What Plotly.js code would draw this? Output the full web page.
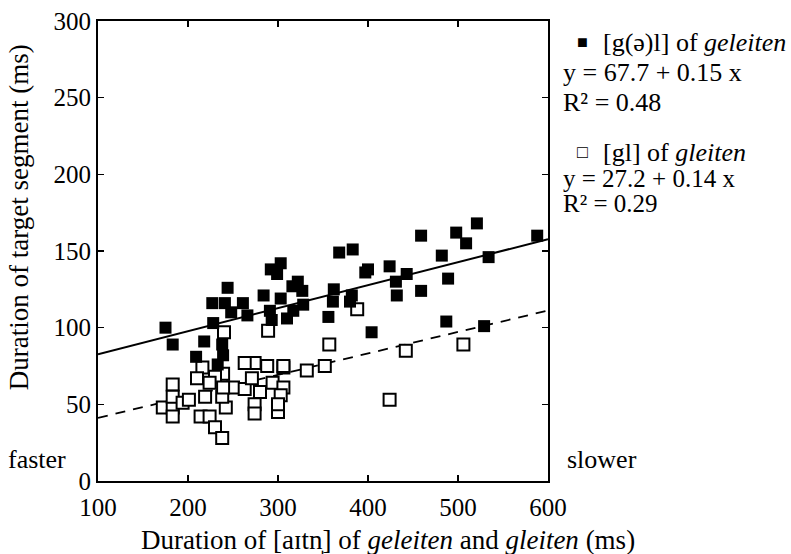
<!DOCTYPE html>
<html>
<head>
<meta charset="utf-8">
<script src="https://cdn.plot.ly/plotly-3.0.1.min.js"></script>
<style>html,body{margin:0;padding:0;background:#fff;}#chart{width:791px;height:554px;}</style>
</head>
<body>
<div id="chart"></div>
<script>
// [g(ə)l] of geleiten (filled squares)
const geleitenX = [175, 183, 209, 218, 227, 228, 238, 239, 233, 241, 244, 248, 261, 266, 284, 292, 303, 299, 303, 316, 322, 327, 328, 317, 310, 291, 293, 362, 361, 356, 368, 383, 400, 397, 424, 443, 431, 432, 459, 382, 380, 404, 482, 498, 509, 521, 534, 588, 489, 487, 529, 459];
const geleitenY = [100, 89, 81, 91, 116, 103, 89, 82, 76, 116, 126, 110, 116, 108, 121, 138, 142, 135, 119, 127, 130, 124, 115, 111, 106, 111, 105, 125, 117, 107, 149, 151, 138, 136, 140, 135, 130, 121, 124, 121, 117, 97, 147, 162, 155, 168, 146, 160, 132, 104, 101, 160];
// [gl] of gleiten (open squares)
const gleitenX = [240, 289, 357, 388, 442, 506, 424, 332, 352, 306, 288, 274, 263, 216, 183, 210, 239, 230, 250, 263, 172, 183, 183, 194, 201, 183, 214, 224, 230, 238, 242, 274, 274, 219, 238, 224, 239, 280, 294, 306, 303, 271, 300, 300, 306];
const gleitenY = [97, 98, 89, 112, 85, 89, 53, 72, 75, 74, 75, 77, 77, 74, 63, 67, 70, 68, 61, 60, 48, 48, 55, 51, 53, 42, 42, 42, 35, 28, 48, 50, 44, 55, 55, 64, 61, 58, 64, 61, 56, 67, 45, 50, 75];
// regression lines (endpoints at x = 100 and 600)
const fitX = [100, 600];
const geleitenFitY = [82.7, 157.7];
const gleitenFitY = [41.2, 111.2];
const xTicks = [100, 200, 300, 400, 500, 600];
const yTicks = [0, 50, 100, 150, 200, 250, 300];

const FONT = 'Liberation Serif, Times New Roman, serif';

const traces = [
  {x: fitX, y: geleitenFitY, mode: 'lines', line: {color: '#000', width: 2}, hoverinfo: 'skip', showlegend: false},
  {x: fitX, y: gleitenFitY, mode: 'lines', line: {color: '#000', width: 1.8, dash: '10px,8px'}, hoverinfo: 'skip', showlegend: false},
  {x: gleitenX, y: gleitenY, mode: 'markers', marker: {symbol: 'square', size: 12, color: '#fff', line: {color: '#000', width: 2}}, showlegend: false},
  {x: geleitenX, y: geleitenY, mode: 'markers', marker: {symbol: 'square', size: 12, color: '#000', line: {color: '#000', width: 0}}, showlegend: false}
];

const axisCommon = {
  showgrid: false, zeroline: false, showline: true, linecolor: '#000', linewidth: 2,
  ticks: 'inside', ticklen: 6, tickwidth: 1.5, tickcolor: '#000', mirror: 'ticks',
  tickfont: {family: FONT, size: 25, color: '#000'}
};

function ann(x, y, text, xanchor, size, angle) {
  return {xref: 'paper', yref: 'paper', x: x, y: y, xanchor: xanchor, yanchor: 'middle', text: text,
          showarrow: false, align: 'left', textangle: angle || 0, font: {family: FONT, size: size, color: '#000'}};
}

const layout = {
  width: 791, height: 554,
  margin: {l: 98, r: 243, t: 21, b: 73},
  paper_bgcolor: '#fff', plot_bgcolor: '#fff',
  font: {family: FONT, color: '#000'},
  xaxis: Object.assign({}, axisCommon, {range: [100, 600], tickvals: xTicks, ticktext: xTicks.map(String), ticklabelstandoff: 3}),
  yaxis: Object.assign({}, axisCommon, {range: [0, 300], tickvals: yTicks, ticktext: yTicks.map(String)}),
  annotations: [
    // axis titles
    ann(0.644, -0.129, 'Duration of [aɪtn̩] of <i>geleiten</i> and <i>gleiten</i> (ms)', 'center', 27),
    ann(-0.175, 0.574, 'Duration of target segment (ms)', 'center', 27, -90),
    // speed labels
    ann(-0.066, 0.046, 'faster', 'right', 26),
    ann(1.038, 0.046, 'slower', 'left', 26),
    // legend / regression text
    ann(1.0756, 0.954, '■', 'center', 18),
    ann(1.118, 0.954, '[g(ə)l] of <i>geleiten</i>', 'left', 26),
    ann(1.028, 0.889, 'y = 67.7 + 0.15 x', 'left', 26),
    ann(1.028, 0.822, 'R² = 0.48', 'left', 26),
    ann(1.0756, 0.715, '□', 'center', 18),
    ann(1.118, 0.715, '[gl] of <i>gleiten</i>', 'left', 26),
    ann(1.028, 0.657, 'y = 27.2 + 0.14 x', 'left', 25),
    ann(1.028, 0.604, 'R² = 0.29', 'left', 25)
  ]
};

Plotly.newPlot('chart', traces, layout, {staticPlot: true});
</script>
</body>
</html>
